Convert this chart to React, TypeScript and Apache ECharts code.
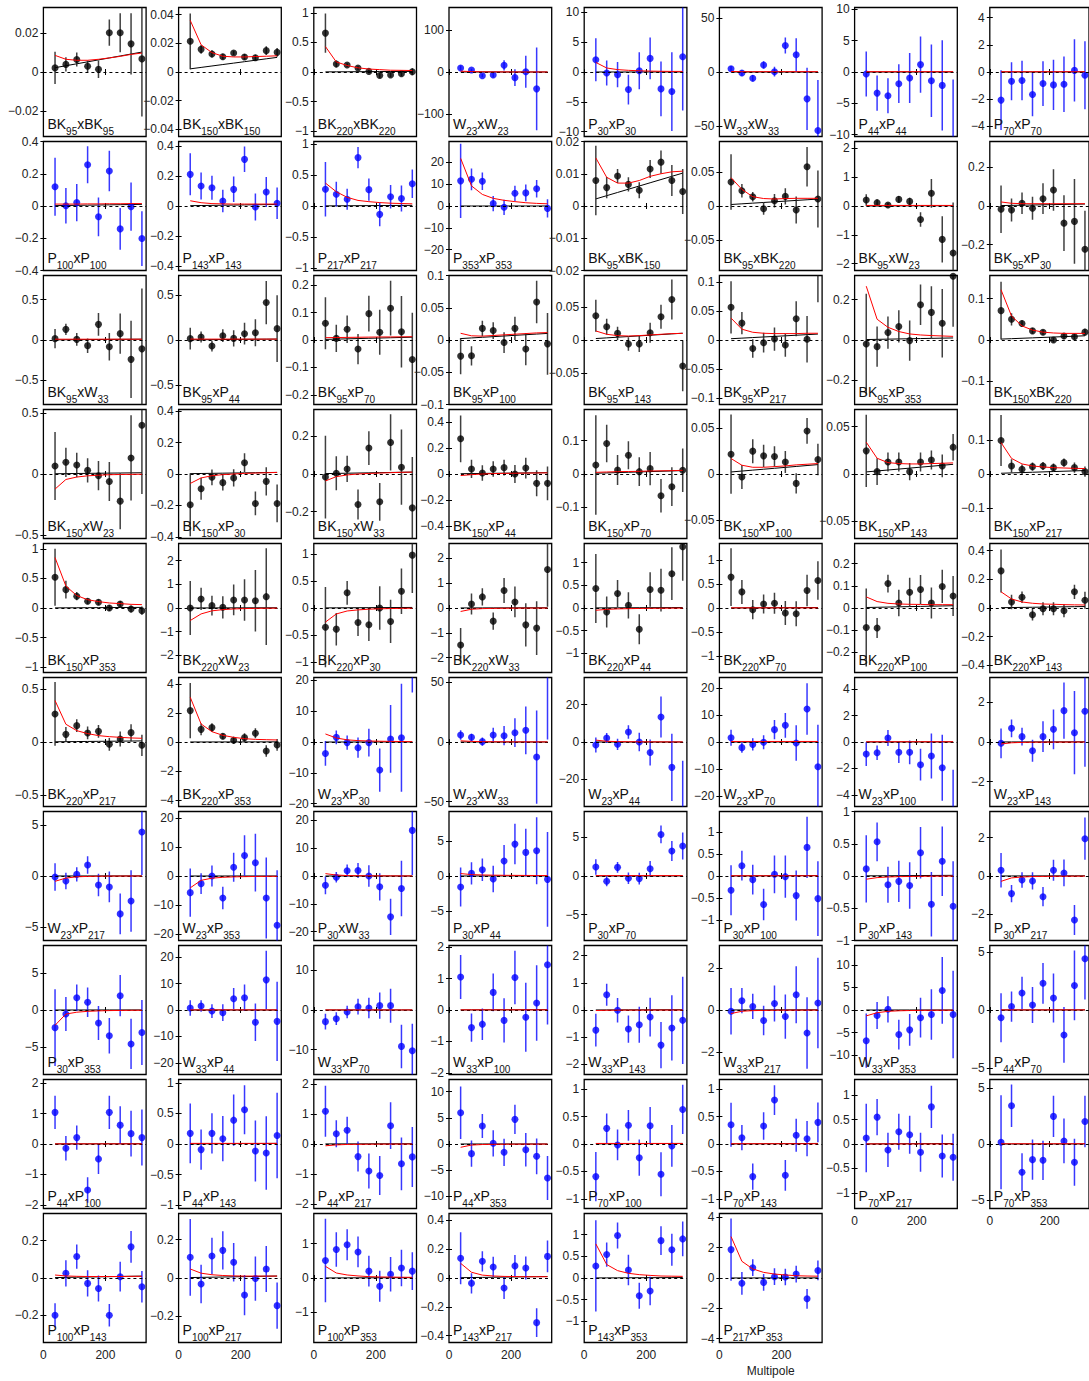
import React, { useEffect, useRef } from 'react';
import * as echarts from 'echarts';

// multipole bin centres
const ells = [37.5, 72.5, 107.5, 142.5, 177.5, 212.5, 247.5, 282.5, 317.5];
// lensed-LCDM expectation (black line)
const lensing = [0.0022, 0.0032, 0.0042, 0.0052, 0.0062, 0.0072, 0.0082, 0.0092, 0.0102];

const panelNames = [
  'BK95xBK95', 'BK150xBK150', 'BK220xBK220', 'W23xW23', 'P30xP30', 'W33xW33', 'P44xP44', 'P70xP70',
  'P100xP100', 'P143xP143', 'P217xP217', 'P353xP353', 'BK95xBK150', 'BK95xBK220', 'BK95xW23', 'BK95xP30',
  'BK95xW33', 'BK95xP44', 'BK95xP70', 'BK95xP100', 'BK95xP143', 'BK95xP217', 'BK95xP353', 'BK150xBK220',
  'BK150xW23', 'BK150xP30', 'BK150xW33', 'BK150xP44', 'BK150xP70', 'BK150xP100', 'BK150xP143', 'BK150xP217',
  'BK150xP353', 'BK220xW23', 'BK220xP30', 'BK220xW33', 'BK220xP44', 'BK220xP70', 'BK220xP100', 'BK220xP143',
  'BK220xP217', 'BK220xP353', 'W23xP30', 'W23xW33', 'W23xP44', 'W23xP70', 'W23xP100', 'W23xP143',
  'W23xP217', 'W23xP353', 'P30xW33', 'P30xP44', 'P30xP70', 'P30xP100', 'P30xP143', 'P30xP217',
  'P30xP353', 'W33xP44', 'W33xP70', 'W33xP100', 'W33xP143', 'W33xP217', 'W33xP353', 'P44xP70',
  'P44xP100', 'P44xP143', 'P44xP217', 'P44xP353', 'P70xP100', 'P70xP143', 'P70xP217', 'P70xP353',
  'P100xP143', 'P100xP217', 'P100xP353', 'P143xP217', 'P143xP353', 'P217xP353',
];

// symmetric y-axis half range per panel
const yLim = [
  0.033, 0.045, 1.09, 153, 10.8, 60, 10.3, 4.75,
  0.4, 0.43, 1.04, 29.5, 0.02, 0.095, 2.24, 0.335,
  0.8, 0.715, 0.235, 0.1, 0.097, 0.111, 0.32, 0.156,
  0.53, 0.41, 0.343, 0.497, 0.193, 0.07, 0.068, 0.19,
  1.09, 2.73, 1.19, 2.6, 1.42, 1.345, 0.29, 0.45,
  0.607, 4.44, 20.9, 54, 34.6, 24, 4.88, 3.25,
  6.3, 22.3, 23.2, 9.24, 8.36, 1.47, 1.0, 3.37,
  8.74, 24.4, 16.3, 2.05, 2.37, 3.06, 14.3, 5.54,
  2.12, 1.055, 2.15, 12.3, 1.175, 1.175, 1.32, 5.77,
  0.346, 0.336, 1.88, 0.448, 1.485, 4.25,
];

// y tick label spacing per panel
const yStep = [
  0.02, 0.02, 0.5, 100, 5, 50, 5, 2,
  0.2, 0.2, 0.5, 10, 0.01, 0.05, 1, 0.2,
  0.5, 0.5, 0.1, 0.05, 0.05, 0.05, 0.2, 0.1,
  0.5, 0.2, 0.2, 0.2, 0.1, 0.05, 0.05, 0.1,
  0.5, 1, 0.5, 1, 0.5, 0.5, 0.1, 0.2,
  0.5, 2, 10, 50, 20, 10, 2, 2,
  5, 10, 10, 5, 5, 0.5, 0.5, 2,
  5, 10, 10, 1, 1, 2, 5, 5,
  1, 0.5, 1, 5, 0.5, 0.5, 0.5, 5,
  0.2, 0.2, 1, 0.2, 0.5, 2,
];

// measured bandpowers
const bandpowers = [
  [0.0021, 0.0039, 0.0064, 0.0029, 0.0014, 0.0201, 0.0201, 0.0144, 0.0067],
  [0.0214, 0.0158, 0.0126, 0.0107, 0.0133, 0.0105, 0.0100, 0.0149, 0.0137],
  [0.657, 0.135, 0.118, 0.067, 0.01, -0.06, -0.05, -0.03, 0.005],
  [9.5, 4.7, -8.7, -7, 15.8, -13.4, 0.8, -40, null],
  [2.06, -0.17, -0.44, -2.94, 0.22, 2.28, -2.83, -3.28, 2.56],
  [3.1, -0.9, -5.8, 6.5, 0.3, 24.6, 16, -25, -54.5],
  [-0.32, -3.37, -3.8, -1.87, -0.96, 1.18, -1.39, -2.14, -11],
  [-2.07, -0.68, -0.63, -1.66, -0.85, -0.95, -0.9, 0.12, -0.24],
  [0.119, 0.002, 0.021, 0.256, -0.067, 0.217, -0.142, -0.004, -0.202],
  [0.211, 0.133, 0.122, 0.033, 0.111, 0.311, -0.007, 0.093, 0.018],
  [0.27, 0.19, 0.108, 0.78, 0.264, -0.135, 0.15, 0.12, 0.36],
  [11.5, 12.2, 11.3, 1.1, -0.6, 5.8, 6.0, 7.9, -1.1],
  [0.0079, 0.0057, 0.0093, 0.0067, 0.0049, 0.0115, 0.0136, 0.0079, 0.0045],
  [0.0353, 0.0225, 0.0137, -0.004, 0.0078, 0.0142, -0.0059, 0.0578, 0.0103],
  [0.21, 0.116, 0.035, 0.23, 0.16, -0.47, 0.44, -1.16, -1.63],
  [-0.017, -0.021, 0.014, -0.012, 0.038, 0.083, -0.089, -0.08, -0.225],
  [0.017, 0.132, 0.008, -0.07, 0.194, -0.083, 0.079, -0.24, -0.11],
  [0.015, 0.033, -0.067, 0.048, 0.018, 0.07, 0.081, 0.415, 0.126],
  [0.061, 0.006, 0.039, -0.033, 0.096, 0.028, 0.116, 0.03, -0.071],
  [-0.025, -0.0245, 0.018, 0.0146, -0.004, 0.018, -0.014, 0.059, -0.006],
  [0.0364, 0.02, 0.01, -0.006, -0.006, 0.011, 0.035, 0.061, -0.039],
  [0.0563, 0.029, -0.0145, -0.0046, 0.0017, -0.0087, 0.0365, 0.0012, 0.118],
  [-0.02, -0.033, 0.037, 0.067, -0.003, 0.175, 0.137, 0.083, 0.316],
  [0.071, 0.05, 0.04, 0.022, 0.0186, 0.0, 0.0097, 0.008, 0.019],
  [0.066, 0.096, 0.074, 0.03, -0.014, -0.061, -0.223, 0.132, 0.4],
  [-0.196, -0.094, -0.021, -0.055, -0.025, 0.072, -0.187, -0.047, -0.187],
  [-0.016, 0.004, 0.027, -0.162, 0.138, -0.148, 0.168, 0.036, -0.18],
  [0.271, 0.039, 0.008, 0.039, 0.049, 0, 0.046, -0.072, -0.072],
  [0.027, 0.091, 0.012, 0.056, 0.007, 0.016, -0.065, -0.038, 0.011],
  [0.0215, -0.0033, 0.0248, 0.0197, 0.019, 0.013, -0.0102, 0.0467, 0.0157],
  [0.0244, 0.0025, 0.0127, 0.0127, 0.0025, 0.0127, 0.0148, 0.0085, 0.0283],
  [0.0985, 0.0236, 0.0138, 0.0217, 0.0236, 0.0187, 0.0335, 0.0187, 0.007],
  [0.52, 0.31, 0.2, 0.114, 0.097, 0.0, 0.068, -0.017, -0.045],
  [0, 0.384, 0.1, 0.028, 0.34, 0.34, 0.31, 0.48, null],
  [-0.354, -0.39, 0.28, -0.267, -0.31, 0.0, -0.248, 0.31, 0.975],
  [-1.49, 0.163, 0.447, -0.53, 0.705, 0.244, -0.68, -0.81, 1.55],
  [0.43, -0.089, 0.318, 0.059, -0.466, 0.407, 0.392, 0.755, 1.35],
  [0.644, 0.336, -0.035, 0.084, 0.098, -0.105, -0.12, 0.364, 0.574],
  [-0.0876, -0.09, 0.11, 0.0226, 0.071, 0.083, 0.0226, 0.097, 0.054],
  [0.259, 0.042, 0.075, -0.047, -0.005, -0.005, -0.019, 0.113, 0.054],
  [0.264, 0.072, 0.154, 0.085, 0.1, -0.022, 0.028, 0.088, -0.031],
  [2.16, 0.87, 0.99, 0.39, 0.115, 0.3, 0.6, -0.62, -0.2],
  [-3.7, 1.5, -0.2, -1.84, -0.2, -9.1, 1.0, 1.4, 30],
  [5.9, 3.9, 0.3, 5.9, 5.3, 7.8, 9.8, -12.6, 58],
  [-1.6, 2.15, -1.25, 5.4, 0, -5.6, 13.4, -13.6, -38],
  [1.6, -2.1, -0.9, -0.1, 4.6, 6.2, -0.4, 12.3, -9.2],
  [-0.91, -0.81, 0.3, -0.78, -0.78, -1.72, -1.06, -1.95, -6],
  [-0.067, 0.69, 0.27, -0.44, 0.27, 0.64, 1.58, 0.47, 1.55],
  [-0.1, -0.49, 0.16, 1.07, -0.88, -1.07, -3.7, -2.44, 4.29],
  [-5.75, -2.64, 0, -7.6, 3.0, 7.1, 4.6, -7.6, -17],
  [-3.34, -0.48, 1.9, 2.0, 0, -3.9, -14.7, -4.5, 16.4],
  [-1.57, 0.38, 0.9, -0.43, 2.14, 4.57, 3.38, 3.62, -0.48],
  [1.16, -0.69, 1.12, -0.3, -0.34, 0.95, 5.39, 3.23, 3.88],
  [-0.326, 0.235, -0.083, -0.65, 0.038, -0.015, -0.447, 0.652, -0.515],
  [0.11, 0.53, -0.135, -0.083, -0.146, 0.36, -0.437, 0.229, -0.47],
  [0.3, -0.92, -0.21, -0.26, -1.08, 0.3, 0.16, -2.3, 1.95],
  [-2.39, -0.54, 1.67, 1.04, -1.76, -3.5, 1.94, -4.6, -3.06],
  [0.75, 1.5, -0.38, -1.0, 4.28, 4.65, -4.65, 11.4, -4.3],
  [-2.94, -2.2, -0.5, 0.84, 0.5, 1.1, 1.1, -9.2, -10.3],
  [1.05, -0.56, -0.45, 0.56, -0.33, 1.03, -0.23, 0.22, 1.44],
  [-0.74, 0.56, -0.01, -0.7, -0.54, -0.26, -1.29, -0.66, -0.38],
  [-0.06, 0.44, 0.17, -0.5, 0.31, -0.31, 0.72, -1.09, 0.33],
  [-6.8, -1.2, 0.15, -5.44, -4.4, -1.7, -1.0, 4.34, -1.0],
  [-0.66, 0.29, 1.46, 0.43, 2.29, 1.03, -2.14, 2.11, 4.4],
  [1.04, -0.14, 0.21, -1.51, -0.49, 1.04, 0.62, 0.34, 0.21],
  [0.174, -0.092, 0.174, 0.087, 0.39, 0.56, -0.114, -0.147, 0.14],
  [1.09, 0.34, 0.46, -0.42, -0.9, -1.05, 0.61, -0.66, -0.43],
  [5.97, -1.84, 3.43, 0.13, -1.59, 4.7, -1.08, -2.35, -6.5],
  [-0.594, 0.285, -0.018, 0.34, -0.25, 0.333, -0.55, -0.036, 0.63],
  [0.35, 0.115, -0.594, 0.327, 0.8, -0.57, 0.158, 0.097, 0.394],
  [0.122, 0.55, -0.122, 0.25, 0.19, -0.17, 0.76, -0.245, -0.27],
  [0.15, 3.42, -2.53, -1.4, -1.46, 2.47, 0.27, -1.64, 2.02],
  [-0.2, 0.025, 0.115, -0.029, -0.056, -0.2, 0.007, 0.167, -0.047],
  [0.108, -0.031, 0.115, 0.144, 0.082, -0.089, -0.003, 0.047, -0.144],
  [0.51, 0.83, 0.97, 0.76, 0.2, -0.24, 0.11, 0.29, 0.2],
  [0.137, -0.037, 0.116, 0.077, -0.07, 0.084, 0.07, -0.31, 0.15],
  [0.277, 0.54, 0.98, 0.185, -0.41, -0.3, 0.86, 0.65, 0.9],
  [1.87, -0.35, 0.68, -0.29, 0.088, 0.066, 0.26, -1.37, 0.5],
];

// 1-sigma error bars
const errorBars = [
  [0.0082, 0.0037, 0.0036, 0.003, 0.0045, 0.0067, 0.010, 0.0157, 0.0295],
  [0.0194, 0.003, 0.0025, 0.002, 0.0015, 0.002, 0.002, 0.003, 0.003],
  [0.33, 0.06, 0.03, 0.03, 0.03, 0.04, 0.04, 0.04, 0.06],
  [6, 3, 4, 6, 12, 20, 38, 98, 0],
  [3.6, 2.1, 2.1, 2.5, 3.1, 3.5, 4.6, 6.6, 9],
  [2.5, 2.5, 3, 3.5, 4.5, 7.5, 15.5, 29, 47],
  [3.6, 2.8, 2.8, 3.1, 4, 4.5, 5.8, 7.2, 9.8],
  [2.2, 1.4, 1.45, 1.6, 1.65, 1.85, 2.05, 2.3, 2.5],
  [0.18, 0.11, 0.115, 0.115, 0.12, 0.125, 0.13, 0.15, 0.17],
  [0.14, 0.09, 0.08, 0.075, 0.085, 0.085, 0.09, 0.1, 0.105],
  [0.44, 0.2, 0.17, 0.17, 0.18, 0.19, 0.19, 0.21, 0.23],
  [17, 5, 4, 3.5, 3.5, 3.5, 3.8, 4, 4.2],
  [0.0108, 0.0033, 0.0022, 0.0022, 0.0025, 0.0028, 0.0036, 0.0048, 0.007],
  [0.041, 0.01, 0.007, 0.009, 0.01, 0.012, 0.02, 0.029, 0.042],
  [0.2, 0.1, 0.08, 0.12, 0.13, 0.25, 0.5, 0.8, 1.75],
  [0.123, 0.06, 0.056, 0.06, 0.08, 0.108, 0.145, 0.22, 0.2],
  [0.12, 0.07, 0.08, 0.09, 0.14, 0.17, 0.25, 0.48, 0.75],
  [0.12, 0.06, 0.06, 0.07, 0.09, 0.12, 0.15, 0.24, 0.37],
  [0.095, 0.05, 0.05, 0.055, 0.065, 0.082, 0.1, 0.13, 0.17],
  [0.028, 0.015, 0.012, 0.013, 0.016, 0.018, 0.025, 0.033, 0.048],
  [0.024, 0.012, 0.01, 0.01, 0.012, 0.015, 0.018, 0.03, 0.038],
  [0.045, 0.019, 0.016, 0.017, 0.02, 0.02, 0.03, 0.04, 0.053],
  [0.25, 0.1, 0.08, 0.08, 0.1, 0.1, 0.13, 0.17, 0.25],
  [0.07, 0.015, 0.008, 0.007, 0.006, 0.006, 0.007, 0.007, 0.008],
  [0.28, 0.12, 0.1, 0.1, 0.12, 0.16, 0.23, 0.35, 0.565],
  [0.2, 0.07, 0.05, 0.05, 0.055, 0.06, 0.075, 0.09, 0.12],
  [0.22, 0.09, 0.07, 0.08, 0.09, 0.1, 0.15, 0.2, 0.27],
  [0.18, 0.07, 0.06, 0.06, 0.06, 0.07, 0.08, 0.1, 0.13],
  [0.149, 0.056, 0.045, 0.042, 0.043, 0.05, 0.05, 0.058, 0.065],
  [0.043, 0.013, 0.013, 0.012, 0.011, 0.012, 0.011, 0.014, 0.017],
  [0.038, 0.014, 0.01, 0.01, 0.009, 0.01, 0.01, 0.012, 0.014],
  [0.075, 0.02, 0.014, 0.012, 0.012, 0.012, 0.012, 0.015, 0.015],
  [0.48, 0.15, 0.07, 0.05, 0.05, 0.05, 0.05, 0.06, 0.07],
  [1.14, 0.47, 0.42, 0.47, 0.65, 0.88, 1.3, 2.05, 0],
  [0.74, 0.3, 0.22, 0.25, 0.3, 0.4, 0.4, 0.42, 0.7],
  [0.68, 0.42, 0.35, 0.35, 0.5, 0.62, 0.87, 1.08, 1.5],
  [0.76, 0.34, 0.3, 0.29, 0.33, 0.38, 0.47, 0.58, 0.75],
  [0.6, 0.25, 0.2, 0.2, 0.22, 0.25, 0.26, 0.33, 0.4],
  [0.175, 0.045, 0.04, 0.06, 0.065, 0.065, 0.07, 0.075, 0.09],
  [0.15, 0.05, 0.04, 0.04, 0.045, 0.045, 0.045, 0.05, 0.06],
  [0.3, 0.07, 0.06, 0.06, 0.06, 0.06, 0.07, 0.08, 0.1],
  [1.9, 0.4, 0.3, 0.2, 0.25, 0.3, 0.35, 0.4, 0.4],
  [4, 2.2, 2.3, 3.3, 4.5, 7, 11, 17.5, 14],
  [4, 3, 3.5, 6, 8, 12, 20, 39, 56],
  [4, 2.7, 3, 3.6, 5, 7, 11, 18, 28],
  [3, 1.9, 2.3, 2.6, 3.6, 4.6, 6.6, 9.6, 15.6],
  [0.9, 0.55, 0.6, 0.8, 0.9, 1.2, 1.7, 2.5, 3.9],
  [0.75, 0.45, 0.45, 0.55, 0.78, 1.0, 1.42, 2.1, 2.8],
  [1.35, 0.8, 0.7, 0.85, 1.1, 1.5, 2.0, 3.0, 4.2],
  [8.3, 3.6, 3.6, 3.9, 5, 7, 10, 14, 19],
  [3.2, 1.9, 2.2, 2.7, 3.9, 4.9, 6.5, 10, 16],
  [2.8, 1.6, 1.6, 1.9, 2.3, 2.9, 3.4, 4.8, 6.8],
  [1.0, 0.65, 0.7, 0.75, 0.75, 1.0, 1.15, 1.3, 1.75],
  [0.57, 0.34, 0.34, 0.36, 0.43, 0.48, 0.57, 0.7, 0.85],
  [0.52, 0.3, 0.28, 0.32, 0.36, 0.4, 0.5, 0.54, 0.7],
  [0.9, 0.45, 0.4, 0.45, 0.5, 0.55, 0.7, 0.78, 1.1],
  [5.2, 2.3, 1.8, 2.0, 2.3, 2.4, 2.8, 3.4, 4.4],
  [2.9, 2.2, 2.6, 3.2, 4, 5, 7.1, 11, 15],
  [2.0, 1.6, 1.6, 2.0, 2.6, 3.3, 4.3, 5.5, 6.8],
  [0.7, 0.45, 0.5, 0.6, 0.7, 0.85, 1.1, 1.2, 1.9],
  [0.6, 0.4, 0.45, 0.5, 0.66, 0.71, 0.85, 1.2, 1.6],
  [1.1, 0.6, 0.6, 0.7, 0.85, 1.05, 1.35, 1.7, 2.15],
  [6, 3, 2.9, 3.3, 3.5, 4.4, 5.6, 7.4, 9.7],
  [2.1, 1.3, 1.4, 1.55, 1.75, 2.1, 2.4, 3.0, 3.5],
  [0.55, 0.4, 0.4, 0.42, 0.5, 0.55, 0.62, 0.75, 0.92],
  [0.49, 0.33, 0.33, 0.37, 0.42, 0.4, 0.5, 0.6, 0.7],
  [0.85, 0.45, 0.45, 0.5, 0.58, 0.65, 0.78, 0.88, 1.0],
  [5, 2.5, 2.3, 2.5, 2.6, 2.8, 3.2, 3.4, 4.2],
  [0.45, 0.27, 0.28, 0.28, 0.33, 0.34, 0.4, 0.38, 0.45],
  [0.4, 0.23, 0.24, 0.25, 0.27, 0.28, 0.3, 0.32, 0.36],
  [0.7, 0.37, 0.35, 0.37, 0.39, 0.4, 0.43, 0.44, 0.48],
  [4.2, 1.9, 1.7, 1.8, 1.75, 1.85, 2.0, 2.1, 2.3],
  [0.065, 0.07, 0.065, 0.07, 0.07, 0.06, 0.08, 0.085, 0.085],
  [0.2, 0.1, 0.095, 0.1, 0.1, 0.105, 0.115, 0.12, 0.12],
  [1.22, 0.5, 0.45, 0.45, 0.45, 0.45, 0.5, 0.53, 0.55],
  [0.18, 0.07, 0.07, 0.07, 0.075, 0.075, 0.08, 0.1, 0.11],
  [1.05, 0.28, 0.3, 0.35, 0.3, 0.33, 0.33, 0.37, 0.4],
  [2.05, 0.75, 0.55, 0.55, 0.55, 0.55, 0.55, 0.65, 0.65],
];

// model expectation (red line)
const modelRed = [
  [0.0085, 0.0065, 0.006, 0.006, 0.0065, 0.0072, 0.008, 0.009, 0.0097],
  [0.036, 0.019, 0.0135, 0.011, 0.0105, 0.0105, 0.0108, 0.011, 0.0113],
  [0.43, 0.17, 0.11, 0.07, 0.05, 0.04, 0.03, 0.028, 0.025],
  [2, 1, 0.5, 0.3, 0.2, 0.1, 0.1, 0.1, 0.1],
  [1.6, 0.67, 0.4, 0.28, 0.2, 0.15, 0.12, 0.1, 0.1],
  [0.5, 0.3, 0.3, 0.3, 0.3, 0.3, 0.3, 0.3, 0.3],
  [0.05, 0.05, 0.05, 0.05, 0.05, 0.05, 0.05, 0.05, 0.05],
  [0.02, 0.02, 0.02, 0.02, 0.02, 0.02, 0.02, 0.02, 0.02],
  [0.012, 0.012, 0.012, 0.013, 0.013, 0.014, 0.014, 0.015, 0.015],
  [0.035, 0.022, 0.016, 0.014, 0.013, 0.013, 0.013, 0.013, 0.013],
  [0.37, 0.23, 0.14, 0.09, 0.07, 0.055, 0.045, 0.04, 0.035],
  [21.8, 9.2, 5.3, 3.5, 2.6, 2.0, 1.5, 1.2, 1.0],
  [0.0149, 0.0089, 0.0071, 0.0071, 0.0079, 0.0092, 0.01, 0.0106, 0.0108],
  [0.0417, 0.0245, 0.0137, 0.011, 0.0103, 0.011, 0.0113, 0.0113, 0.0113],
  [0.02, 0.02, 0.02, 0.02, 0.02, 0.02, 0.02, 0.02, 0.02],
  [0.021, 0.014, 0.012, 0.012, 0.012, 0.012, 0.012, 0.012, 0.012],
  [0.01, 0.01, 0.01, 0.01, 0.01, 0.01, 0.01, 0.01, 0.01],
  [0.01, 0.01, 0.01, 0.01, 0.01, 0.01, 0.01, 0.01, 0.01],
  [0.0085, 0.009, 0.0095, 0.01, 0.0105, 0.011, 0.0112, 0.0115, 0.012],
  [0.0104, 0.0065, 0.006, 0.007, 0.008, 0.009, 0.01, 0.011, 0.0115],
  [0.0136, 0.0086, 0.0066, 0.006, 0.0066, 0.0076, 0.0086, 0.0096, 0.01],
  [0.0377, 0.0186, 0.0133, 0.0116, 0.011, 0.011, 0.011, 0.0116, 0.0116],
  [0.267, 0.103, 0.063, 0.042, 0.03, 0.025, 0.022, 0.02, 0.018],
  [0.1215, 0.058, 0.034, 0.024, 0.019, 0.017, 0.016, 0.016, 0.016],
  [-0.124, -0.045, -0.025, -0.015, -0.01, -0.006, -0.004, -0.003, -0.002],
  [-0.06, -0.025, -0.011, -0.004, 0, 0.004, 0.006, 0.008, 0.01],
  [-0.037, -0.014, -0.005, 0, 0.003, 0.005, 0.007, 0.009, 0.01],
  [-0.012, -0.005, 0, 0.003, 0.005, 0.006, 0.007, 0.008, 0.009],
  [0.005, 0.006, 0.007, 0.0075, 0.008, 0.009, 0.0095, 0.01, 0.011],
  [0.0168, 0.0095, 0.0073, 0.0073, 0.008, 0.0088, 0.0099, 0.0106, 0.0113],
  [0.0335, 0.0166, 0.012, 0.011, 0.0106, 0.0106, 0.011, 0.0113, 0.0117],
  [0.0926, 0.046, 0.0296, 0.0236, 0.0207, 0.0187, 0.0177, 0.0167, 0.016],
  [0.852, 0.37, 0.21, 0.14, 0.108, 0.085, 0.074, 0.062, 0.057],
  [-0.53, -0.25, -0.12, -0.07, -0.04, -0.025, -0.015, -0.01, -0.005],
  [-0.26, -0.11, -0.055, -0.035, -0.022, -0.015, -0.01, -0.006, -0.004],
  [-0.14, -0.05, -0.025, -0.015, -0.01, -0.006, -0.004, -0.003, -0.002],
  [-0.05, -0.03, -0.02, -0.015, -0.01, -0.007, -0.005, -0.003, -0.002],
  [0.003, 0.003, 0.003, 0.003, 0.003, 0.003, 0.003, 0.003, 0.003],
  [0.05, 0.029, 0.021, 0.018, 0.0166, 0.016, 0.015, 0.015, 0.015],
  [0.113, 0.063, 0.042, 0.033, 0.028, 0.026, 0.0235, 0.022, 0.021],
  [0.39, 0.167, 0.107, 0.079, 0.06, 0.05, 0.044, 0.038, 0.035],
  [3.08, 1.24, 0.71, 0.46, 0.32, 0.23, 0.18, 0.16, 0.14],
  [2.6, 1.3, 0.7, 0.45, 0.33, 0.25, 0.2, 0.15, 0.12],
  [1, 0.5, 0.3, 0.2, 0.15, 0.1, 0.1, 0.1, 0.1],
  [1, 0.4, 0.2, 0.15, 0.1, 0.08, 0.06, 0.05, 0.05],
  [0.2, 0.2, 0.2, 0.2, 0.2, 0.2, 0.2, 0.2, 0.2],
  [0.02, 0.02, 0.02, 0.02, 0.02, 0.02, 0.02, 0.02, 0.02],
  [-0.1, -0.04, -0.02, -0.01, -0.006, -0.004, -0.003, -0.002, -0.001],
  [-0.52, -0.2, -0.08, -0.04, -0.02, -0.01, -0.005, -0.003, -0.002],
  [-4.1, -1.5, -0.75, -0.45, -0.3, -0.22, -0.16, -0.12, -0.1],
  [0.85, 0.35, 0.15, 0.1, 0.07, 0.05, 0.04, 0.03, 0.03],
  [0.35, 0.2, 0.15, 0.12, 0.1, 0.09, 0.08, 0.07, 0.07],
  [0.05, 0.05, 0.05, 0.05, 0.05, 0.05, 0.05, 0.05, 0.05],
  [0.005, 0.005, 0.005, 0.005, 0.005, 0.005, 0.005, 0.005, 0.005],
  [-0.05, -0.025, -0.015, -0.01, -0.007, -0.005, -0.003, -0.002, -0.001],
  [-0.28, -0.1, -0.05, -0.03, -0.02, -0.015, -0.01, -0.008, -0.006],
  [-2.07, -0.55, -0.3, -0.18, -0.12, -0.08, -0.06, -0.04, -0.03],
  [0.05, 0.05, 0.05, 0.05, 0.05, 0.05, 0.05, 0.05, 0.05],
  [0.02, 0.02, 0.02, 0.02, 0.02, 0.02, 0.02, 0.02, 0.02],
  [0.005, 0.005, 0.005, 0.005, 0.005, 0.005, 0.005, 0.005, 0.005],
  [-0.02, -0.01, -0.005, -0.004, -0.003, -0.002, -0.002, -0.001, -0.001],
  [-0.17, -0.06, -0.03, -0.02, -0.01, -0.008, -0.006, -0.005, -0.004],
  [-1.3, -0.6, -0.3, -0.18, -0.12, -0.08, -0.06, -0.05, -0.04],
  [0.01, 0.01, 0.01, 0.01, 0.01, 0.01, 0.01, 0.01, 0.01],
  [0.005, 0.005, 0.005, 0.005, 0.005, 0.005, 0.005, 0.005, 0.005],
  [0.01, 0.01, 0.01, 0.01, 0.01, 0.01, 0.01, 0.01, 0.01],
  [-0.06, -0.03, -0.015, -0.01, -0.006, -0.004, -0.003, -0.002, -0.001],
  [-0.63, -0.2, -0.1, -0.06, -0.04, -0.03, -0.02, -0.015, -0.01],
  [0.01, 0.01, 0.01, 0.01, 0.01, 0.01, 0.01, 0.01, 0.01],
  [0.005, 0.005, 0.005, 0.005, 0.005, 0.005, 0.005, 0.005, 0.005],
  [0.002, 0.002, 0.002, 0.002, 0.002, 0.002, 0.002, 0.002, 0.002],
  [0.02, 0.02, 0.02, 0.02, 0.02, 0.02, 0.02, 0.02, 0.02],
  [0.016, 0.011, 0.009, 0.008, 0.008, 0.008, 0.008, 0.009, 0.009],
  [0.047, 0.025, 0.017, 0.013, 0.011, 0.01, 0.01, 0.01, 0.01],
  [0.34, 0.146, 0.088, 0.06, 0.04, 0.03, 0.027, 0.022, 0.02],
  [0.102, 0.04, 0.02, 0.014, 0.011, 0.01, 0.009, 0.009, 0.009],
  [0.785, 0.31, 0.17, 0.108, 0.077, 0.06, 0.046, 0.042, 0.038],
  [2.73, 1.1, 0.6, 0.37, 0.26, 0.2, 0.15, 0.13, 0.12],
];

const xTickLabels = [0, 200];
const xAxisTitle = 'Multipole';

const FONT = "'Liberation Sans', Arial, Helvetica, sans-serif";
const COL0 = 43.4;
const COLSTEP = 135.2;
const PW = 102.7;
const ROW0 = 7.5;
const ROWSTEP = 134;
const PH = 129;
const XMAX = 331;
const NCOL = 8;

function ticksFor(lim: number, step: number): number[] {
  const out: number[] = [];
  const n = Math.ceil(lim / step) + 1;
  for (let k = -n; k <= n; k++) {
    const v = parseFloat((k * step).toPrecision(10));
    if (Math.abs(v) <= lim * (1 + 1e-6) + 1e-12) out.push(v);
  }
  return out;
}

function fmt(v: number): string {
  if (Math.abs(v) < 1e-12) return '0';
  const s = String(parseFloat(v.toPrecision(10)));
  return s.replace('-', '\u2212');
}

export default function App() {
  const ref = useRef<HTMLDivElement>(null);
  useEffect(() => {
    if (!ref.current) return;
    const chart = echarts.init(ref.current, null, { renderer: 'svg' });
    const grid: any[] = [];
    const xAxis: any[] = [];
    const yAxis: any[] = [];
    const series: any[] = [];
    const graphic: any[] = [];

    panelNames.forEach((name, i) => {
      const r = Math.floor(i / NCOL);
      const c = i % NCOL;
      const left = COL0 + COLSTEP * c;
      const top = ROW0 + ROWSTEP * r;
      const isBK = name.indexOf('BK') >= 0;
      const ptColor = isBK ? '#000000' : '#0000ff';
      const barColor = isBK ? 'rgba(30,30,30,0.85)' : 'rgba(0,0,255,0.78)';
      const lim = yLim[i];
      const ticks = ticksFor(lim, yStep[i]);
      const bottomRow = i + NCOL >= panelNames.length;

      grid.push({
        left, top, width: PW, height: PH,
        show: true, borderColor: '#000', borderWidth: 1.3,
        backgroundColor: 'transparent',
      });
      const xBase = {
        gridIndex: i, type: 'value', min: 0, max: XMAX, interval: 200,
        axisLine: { show: false },
        splitLine: { show: false },
        axisTick: { inside: true, length: 3, lineStyle: { color: '#000', width: 1 } },
      };
      xAxis.push({
        ...xBase, position: 'bottom',
        axisLabel: {
          show: bottomRow, margin: 6, fontSize: 12, fontFamily: FONT, color: '#222',
          customValues: xTickLabels,
          formatter: (v: number) => fmt(v),
        },
        axisTick: { ...xBase.axisTick, customValues: xTickLabels },
      });
      xAxis.push({
        ...xBase, position: 'top',
        axisLabel: { show: false },
        axisTick: { ...xBase.axisTick, customValues: xTickLabels },
      });
      const yBase = {
        gridIndex: i, type: 'value', min: -lim, max: lim,
        axisLine: { show: false },
        splitLine: { show: false },
      };
      yAxis.push({
        ...yBase, position: 'left',
        axisTick: { inside: true, length: 3, customValues: ticks, lineStyle: { color: '#000', width: 1 } },
        axisLabel: {
          show: true, margin: 5, fontSize: 12, fontFamily: FONT, color: '#222',
          customValues: ticks, formatter: (v: number) => fmt(v),
        },
      });
      yAxis.push({
        ...yBase, position: 'right',
        axisTick: { inside: true, length: 3, customValues: ticks, lineStyle: { color: '#000', width: 1 } },
        axisLabel: { show: false },
      });

      const xi = 2 * i;
      const yi = 2 * i;
      const vals = bandpowers[i];
      const errs = errorBars[i];
      const barData: number[][] = [];
      const ptData: number[][] = [];
      ells.forEach((x, j) => {
        const v = vals[j];
        if (v === null || v === undefined) return;
        barData.push([x, (v as number) - errs[j], (v as number) + errs[j]]);
        ptData.push([x, v as number]);
      });

      series.push({
        type: 'line', xAxisIndex: xi, yAxisIndex: yi, silent: true,
        data: ells.map((x, j) => [x, lensing[j]]),
        symbol: 'none', lineStyle: { color: '#000', width: 1 }, z: 2,
        markLine: {
          silent: true, symbol: 'none', animation: false,
          label: { show: false },
          lineStyle: { color: '#000', width: 1, type: [3, 3] },
          data: [{ yAxis: 0 }],
        },
      });
      series.push({
        type: 'custom', xAxisIndex: xi, yAxisIndex: yi, silent: true, clip: true, z: 3,
        data: barData,
        renderItem: (params: any, api: any) => {
          const x = api.value(0);
          const p1 = api.coord([x, api.value(1)]);
          const p2 = api.coord([x, api.value(2)]);
          return {
            type: 'line',
            shape: { x1: p1[0], y1: p1[1], x2: p2[0], y2: p2[1] },
            style: { stroke: barColor, lineWidth: 1.5 },
          };
        },
      });
      series.push({
        type: 'scatter', xAxisIndex: xi, yAxisIndex: yi, silent: true, clip: true, z: 4,
        data: ptData, symbol: 'circle', symbolSize: 7,
        itemStyle: { color: ptColor },
      });
      series.push({
        type: 'line', xAxisIndex: xi, yAxisIndex: yi, silent: true, z: 5,
        data: ells.map((x, j) => [x, modelRed[i][j]]),
        symbol: 'none', lineStyle: { color: '#ff0000', width: 1 },
      });

      const m = /^([A-Z]+)(\d+)x([A-Z]+)(\d+)$/.exec(name);
      if (m) {
        graphic.push({
          type: 'text', x: left + 4, y: top + PH - 19.5, z: 100, silent: true,
          style: {
            text: `{m|${m[1]}}{s|${m[2]}}{m|x${m[3]}}{s|${m[4]}}`,
            lineHeight: 19,
            verticalAlign: 'top',
            fill: '#111',
            font: `14px ${FONT}`,
            rich: {
              m: { fontSize: 14, fontFamily: FONT, fill: '#111', verticalAlign: 'top' },
              s: { fontSize: 10, fontFamily: FONT, fill: '#111', verticalAlign: 'bottom' },
            },
          },
        });
      }
    });

    graphic.push({
      type: 'text', x: COL0 + COLSTEP * 5 + PW / 2, y: 1371, z: 100, silent: true,
      style: {
        text: xAxisTitle, fill: '#222', font: `12px ${FONT}`,
        align: 'center', verticalAlign: 'middle',
      },
    });

    chart.setOption({ animation: false, grid, xAxis, yAxis, series, graphic });
    return () => chart.dispose();
  }, []);
  return (
    <div
      ref={ref}
      style={{ position: 'absolute', left: 0, top: 0, width: 1089, height: 1381, background: '#fff' }}
    />
  );
}
